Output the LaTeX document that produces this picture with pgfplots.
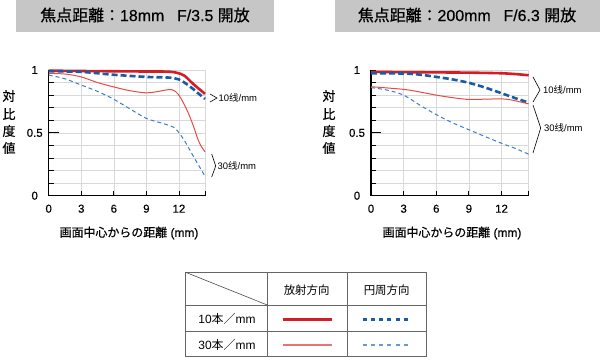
\documentclass[border=0pt]{standalone}
\usepackage{pgfplots}
\pgfplotsset{compat=1.18}
\usepackage{fontspec}
\setmainfont{Liberation Sans}
\newfontfamily\jp{Noto Sans CJK JP}
\newfontfamily\jpm{Noto Sans CJK JP}[FakeBold=0.6]
\newfontfamily\lsm{Liberation Sans}[FakeBold=0.4]
\definecolor{redA}{HTML}{D41E26}
\definecolor{blueA}{HTML}{1A5BA6}
\definecolor{redB}{HTML}{E84A46}
\definecolor{blueB}{HTML}{3B7DCB}
\definecolor{redBL}{HTML}{E87575}
\definecolor{blueBL}{HTML}{6699D6}
\definecolor{titlegray}{HTML}{C6C6C6}
\pgfplotsset{
  mtf/.style={
    scale only axis, height=125.7bp, ymin=0, ymax=1, xmin=0,
    clip=false,
    axis x line*=bottom, axis y line*=left,
    axis line style={black, line width=1.4bp},
    xtick={0,3,6,9,12}, xticklabels={0,3,6,9,12},
    ytick={0,0.1,0.2,0.3,0.4,0.5,0.6,0.7,0.8,0.9,1},
    yticklabels={0,,,,,0.5,,,,,1},
    tick align=inside, major tick length=5bp,
    tick style={black, line width=0.9bp},
    grid=major, major grid style={gray!30, line width=0.6bp},
    extra y ticks={0.5}, extra y tick labels={},
    extra y tick style={major tick length=10bp, grid=none},
    ticklabel style={font=\lsm\fontsize{11.5}{12}\selectfont},
    xticklabel style={anchor=center, yshift=-13bp},
    yticklabel style={anchor=center, xshift=-14bp},
  },
  r10/.style={redA, line width=2.6bp, smooth, tension=0.5},
  b10/.style={blueA, line width=2.6bp, dash pattern=on 6bp off 3bp, smooth, tension=0.5},
  r30/.style={redB, line width=1bp, smooth, tension=0.5},
  b30/.style={blueB, line width=1bp, dash pattern=on 4bp off 3bp, smooth, tension=0.5},
}
\begin{document}
\begin{tikzpicture}[x=1bp,y=1bp]
\path[use as bounding box] (0,0) rectangle (600,359);
% title boxes
\fill[titlegray] (16,327) rectangle (274,359);
\fill[titlegray] (335,327) rectangle (600,359);
\node[font=\lsm\fontsize{16}{18}\selectfont] at (145,344) {{\jpm 焦点距離：}18mm\hspace{0.8em}F/3.5 {\jpm 開放}};
\node[font=\lsm\fontsize{16}{18}\selectfont] at (467,344) {{\jpm 焦点距離：}200mm\hspace{0.8em}F/6.3 {\jpm 開放}};
% left axis
\begin{axis}[mtf, at={(48.7bp,163.3bp)}, anchor=south west, width=156.3bp, xmax=14.4,
  extra x ticks={14.4}, extra x tick labels={}, extra x tick style={grid=major}]
\addplot[r10] coordinates {(0,0.995)(3,0.992)(6,0.99)(9,0.988)(11,0.987)(11.8,0.978)(12.5,0.955)(13.3,0.89)(14.4,0.81)};
\addplot[b10] coordinates {(0,0.99)(3,0.985)(6,0.962)(9,0.945)(11,0.94)(12,0.925)(13,0.87)(13.7,0.82)(14.4,0.77)};
\addplot[r30] coordinates {(0,0.973)(1.5,0.968)(3,0.945)(4.5,0.9)(6,0.865)(7.5,0.835)(9,0.818)(10,0.828)(11.3,0.845)(11.9,0.81)(12.4,0.74)(12.9,0.65)(13.35,0.55)(13.7,0.46)(14,0.40)(14.4,0.35)};
\addplot[b30] coordinates {(0,0.96)(1.5,0.93)(3,0.88)(4.5,0.83)(6,0.767)(7.5,0.69)(9,0.615)(10.5,0.575)(11.5,0.545)(12.1,0.49)(12.7,0.41)(13.35,0.31)(14.4,0.155)};
\end{axis}
% right axis
\begin{axis}[mtf, at={(371bp,163.3bp)}, anchor=south west, width=157.7bp, xmax=14.5,
  extra x ticks={14.5}, extra x tick labels={}, extra x tick style={grid=major}]
\addplot[r10] coordinates {(0,0.985)(3,0.983)(6,0.981)(9,0.979)(12,0.974)(13.5,0.966)(14.5,0.958)};
\addplot[b10] coordinates {(0,0.973)(3,0.972)(4.5,0.963)(6,0.945)(7.5,0.925)(9,0.898)(10.5,0.86)(12,0.815)(13.3,0.775)(14.5,0.74)};
\addplot[r30] coordinates {(0,0.867)(3,0.846)(4.5,0.825)(6,0.80)(7.5,0.78)(8.8,0.767)(10,0.767)(12,0.77)(13,0.76)(14.5,0.73)};
\addplot[b30] coordinates {(0,0.86)(1.5,0.84)(3,0.80)(4.5,0.72)(6,0.645)(7.5,0.58)(9,0.525)(10.5,0.47)(12,0.417)(13.3,0.375)(14.5,0.33)};
\end{axis}
% y labels
\foreach \xx in {9,329}{
  \node[font=\jpm\fontsize{13}{13}\selectfont] at (\xx,263) {対};
  \node[font=\jpm\fontsize{13}{13}\selectfont] at (\xx,245) {比};
  \node[font=\jpm\fontsize{13}{13}\selectfont] at (\xx,228) {度};
  \node[font=\jpm\fontsize{13}{13}\selectfont] at (\xx,211) {値};
}
% x labels
\node[font=\lsm\fontsize{12}{12}\selectfont] at (129,126) {{\jpm 画面中心からの距離} (mm)};
\node[font=\lsm\fontsize{12}{12}\selectfont] at (452,126) {{\jpm 画面中心からの距離} (mm)};
% annotations
\draw[black, line width=0.6bp] (210,265)--(217,261)--(210,257);
\node[anchor=west, inner sep=0pt, font=\fontsize{9.5}{10}\selectfont] at (218.5,261) {10{\jp 线}/mm};
\draw[black, line width=0.6bp] (211.7,205)--(215.7,193)--(211.7,182);
\node[anchor=west, inner sep=0pt, font=\fontsize{9.5}{10}\selectfont] at (217.5,193) {30{\jp 线}/mm};
\draw[black, line width=0.6bp] (533,282)--(540,269)--(533,257);
\node[anchor=west, inner sep=0pt, font=\fontsize{9.5}{10}\selectfont] at (543,269) {10{\jp 线}/mm};
\draw[black, line width=0.6bp] (533,254)--(540.7,231)--(533,206);
\node[anchor=west, inner sep=0pt, font=\fontsize{9.5}{10}\selectfont] at (544,231) {30{\jp 线}/mm};
% legend table
\draw[gray!80!black, line width=0.8bp] (185.7,2.3) rectangle (426,86.7);
\draw[gray!80!black, line width=0.8bp] (267.3,2.3)--(267.3,86.7) (347.7,2.3)--(347.7,86.7);
\draw[gray!80!black, line width=0.8bp] (185.7,54)--(426,54) (185.7,27.3)--(426,27.3);
\draw[gray!60!black, line width=0.6bp] (185.7,86.7)--(267.3,54);
\node[font=\jp\fontsize{11.5}{12}\selectfont] at (306.7,69) {放射方向};
\node[font=\jp\fontsize{11.5}{12}\selectfont] at (386.7,69) {円周方向};
\node[font=\fontsize{12}{12}\selectfont] at (227,39.7) {10{\jp 本／}mm};
\node[font=\fontsize{12}{12}\selectfont] at (227,14) {30{\jp 本／}mm};
\draw[redA, line width=2.4bp] (283.3,39.7)--(331.7,39.7);
\draw[blueA, line width=2.4bp, dash pattern=on 4bp off 4.2bp] (362.7,39.7)--(411,39.7);
\draw[redBL, line width=1.6bp] (283.3,14)--(331.7,14);
\draw[blueBL, line width=1.3bp, dash pattern=on 4bp off 4.2bp] (362.7,14)--(411,14);
\end{tikzpicture}
\end{document}
